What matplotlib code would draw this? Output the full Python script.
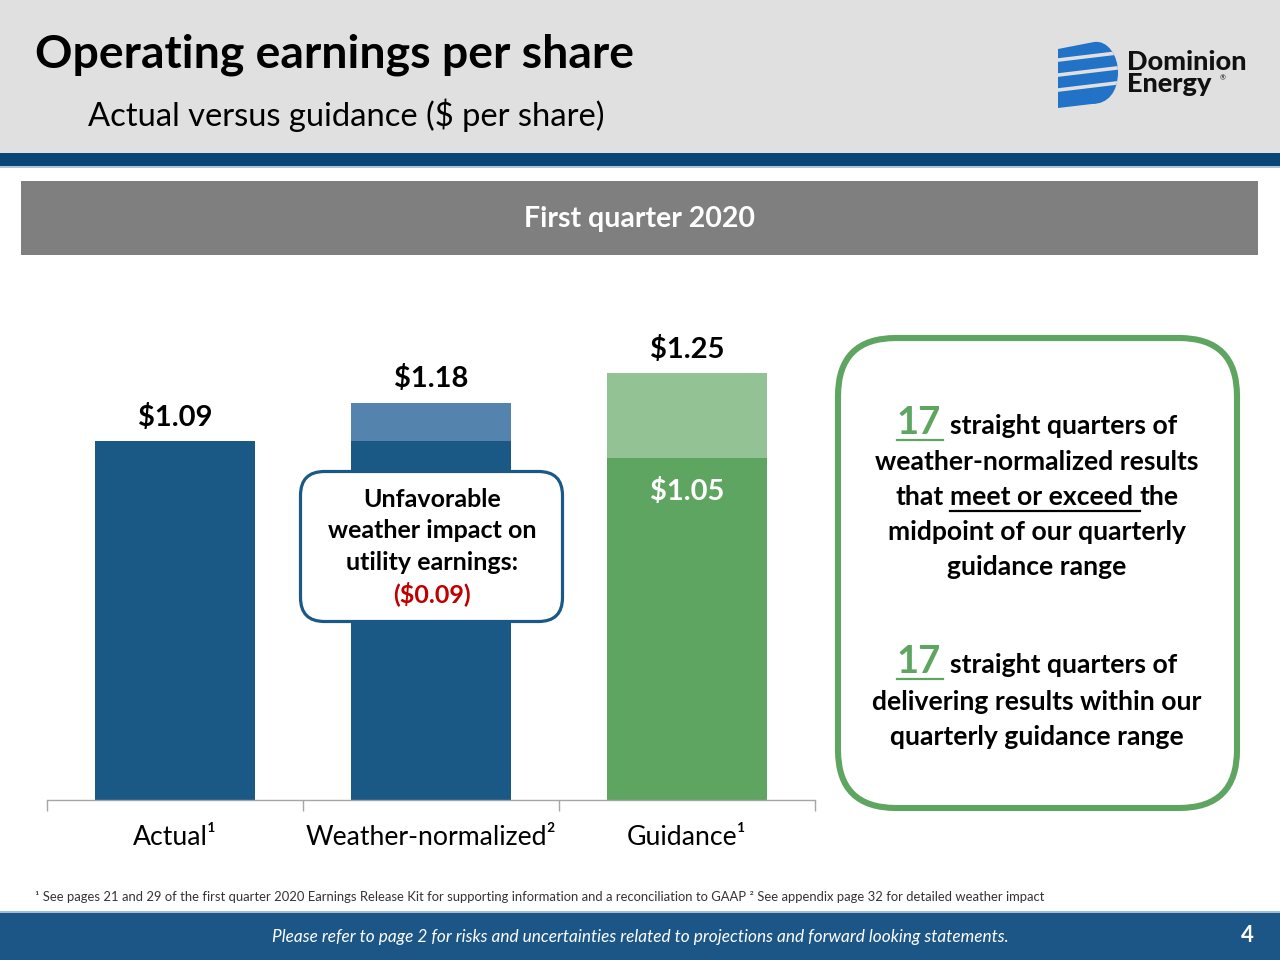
import matplotlib
matplotlib.use("Agg")
import matplotlib.pyplot as plt
from matplotlib.patches import Rectangle, FancyBboxPatch, PathPatch
from matplotlib.path import Path

plt.rcParams['font.family'] = ['Lato', 'DejaVu Sans']

# ---- data ----
categories = ["Actual¹", "Weather-normalized²", "Guidance¹"]
base_values = [1.09, 1.09, 1.05]      # dark part of each bar
top_values = [1.09, 1.18, 1.25]       # full bar height
top_labels = ["$1.09", "$1.18", "$1.25"]
inner_label = "$1.05"
weather_impact = "($0.09)"
streak_quarters = ["17", "17"]

DARK_BLUE = "#1A5886"
LIGHT_BLUE = "#5483AE"
DARK_GREEN = "#5FA562"
LIGHT_GREEN = "#93C394"
NAVY = "#0A4578"
base_colors = [DARK_BLUE, DARK_BLUE, DARK_GREEN]
top_colors = [DARK_BLUE, LIGHT_BLUE, LIGHT_GREEN]

W, H = 1280, 960
fig = plt.figure(figsize=(12.8, 9.6), dpi=100)
renderer = fig.canvas.get_renderer()

# background layer in pixel coords (y down)
bg = fig.add_axes([0, 0, 1, 1], zorder=0)
bg.set_xlim(0, W); bg.set_ylim(H, 0); bg.axis('off')

bg.add_patch(Rectangle((0, 0), W, 153, color='#E0E0E0', lw=0))
bg.add_patch(Rectangle((0, 153), W, 13, color=NAVY, lw=0))
bg.add_patch(Rectangle((0, 166), W, 1.5, color='#AFC4DA', lw=0))
bg.add_patch(Rectangle((21, 181), 1237, 74, color='#7F7F7F', lw=0))
bg.add_patch(Rectangle((0, 911), W, 2, color='#A3BDD8', lw=0))
bg.add_patch(Rectangle((0, 913), W, 47, color='#1B5687', lw=0))

bg.text(35, 67, "Operating earnings per share", fontsize=33.4, fontweight='bold',
        color='black', va='baseline', ha='left')
bg.text(88, 126, "Actual versus guidance ($ per share)", fontsize=23.6,
        color='black', va='baseline', ha='left')
bg.text(640, 219, "First quarter 2020", fontsize=20.5, fontweight='bold',
        color='white', va='center', ha='center')

# logo
logo_verts = [(1058, 49), (1094, 42), (1108, 40), (1118, 56), (1118, 72),
              (1118, 92), (1108, 104), (1092, 104), (1058, 108), (1058, 49)]
logo_codes = [Path.MOVETO, Path.LINETO, Path.CURVE4, Path.CURVE4, Path.CURVE4,
              Path.CURVE4, Path.CURVE4, Path.CURVE4, Path.LINETO, Path.CLOSEPOLY]
logo = PathPatch(Path(logo_verts, logo_codes), fc='#2272C8', ec='none')
bg.add_patch(logo)
for y0 in (61, 76, 91):
    ln, = bg.plot([1050, 1125], [y0, y0 - 9], color='#E0E0E0', lw=2.6)
    ln.set_clip_path(logo)
bg.text(1127, 70, "Dominion", fontsize=19.5, fontweight='black', color='#111111',
        va='baseline', ha='left')
bg.text(1127, 92, "Energy", fontsize=19.5, fontweight='black', color='#111111',
        va='baseline', ha='left')
bg.text(1220, 80, "®", fontsize=5, color='#111111', va='baseline', ha='left')

# footnote and footer
bg.text(35, 901, "¹ See pages 21 and 29 of the first quarter 2020 Earnings Release Kit for "
        "supporting information and a reconciliation to GAAP ² See appendix page 32 for "
        "detailed weather impact", fontsize=9.4, color='#333333', va='baseline', ha='left')
bg.text(640, 937, "Please refer to page 2 for risks and uncertainties related to projections "
        "and forward looking statements.", fontsize=12.4, style='italic', color='white',
        va='center', ha='center')
bg.text(1247, 935, "4", fontsize=16, fontweight='bold', color='white',
        va='center', ha='center')

# ---- bar chart ----
ymin = 0.245
ymax = ymin + 500 / 425
ax = fig.add_axes([47 / W, 1 - 800 / H, 768 / W, 500 / H], zorder=1)
ax.patch.set_alpha(0)
x = list(range(len(categories)))
ax.bar(x, base_values, width=0.625, color=base_colors, lw=0)
ax.bar(x, [t - b for t, b in zip(top_values, base_values)], bottom=base_values,
       width=0.625, color=top_colors, lw=0)
ax.set_xlim(-0.5, 2.5)
ax.set_ylim(ymin, ymax)
for s in ('top', 'right', 'left'):
    ax.spines[s].set_visible(False)
ax.spines['bottom'].set_color('#A6A6A6')
ax.spines['bottom'].set_linewidth(1.0)
ax.set_yticks([])
ax.set_xticks(x)
ax.set_xticklabels(categories, fontsize=19.2)
ax.tick_params(axis='x', which='major', length=0, pad=18)
ax.set_xticks([-0.5, 0.5, 1.5, 2.5], minor=True)
ax.tick_params(axis='x', which='minor', length=8, color='#A6A6A6', width=1.0)

for xi, val, lab in zip(x, top_values, top_labels):
    ax.annotate(lab, (xi, val), xytext=(0, 11), textcoords='offset points',
                ha='center', va='baseline', fontsize=21, fontweight='bold')
ax.annotate(inner_label, (2, base_values[2]), xytext=(0, -30), textcoords='offset points',
            ha='center', va='baseline', fontsize=21, fontweight='bold', color='white')

# ---- foreground: callout and green box ----
fg = fig.add_axes([0, 0, 1, 1], zorder=2)
fg.set_xlim(0, W); fg.set_ylim(H, 0); fg.axis('off')
fg.patch.set_alpha(0)

fg.add_patch(FancyBboxPatch((300.5, 471.5), 262, 150,
                            boxstyle="round,pad=0,rounding_size=24",
                            fc='white', ec=DARK_BLUE, lw=2.3))
for yb, s in zip((507, 538, 570), ("Unfavorable", "weather impact on", "utility earnings:")):
    fg.text(432, yb, s, fontsize=18, fontweight='bold', ha='center', va='baseline')
fg.text(432, 602, weather_impact, fontsize=18, fontweight='bold', color='#C00000',
        ha='center', va='baseline')

fg.add_patch(FancyBboxPatch((838, 338), 399, 470,
                            boxstyle="round,pad=0,rounding_size=58",
                            fc='white', ec=DARK_GREEN, lw=4.4))

BODY = dict(fontsize=19.1, fontweight='bold', color='black')
BIG = dict(fontsize=27.5, fontweight='bold', color=DARK_GREEN)


def width_of(s, kw):
    t = fg.text(0, 0, s, **kw)
    w = t.get_window_extent(renderer).width
    t.remove()
    return w


def text_runs(runs, xc, yb):
    # runs: (text, props, underline: None / 'text' / 'gap', gap after in spaces)
    widths = [width_of(s, kw) for s, kw, _, _ in runs]
    gaps = [g * width_of("x x", kw) - g * width_of("xx", kw) for _, kw, _, g in runs]
    xpos = xc - (sum(widths) + sum(gaps)) / 2
    for (s, kw, ul, g), w, gp in zip(runs, widths, gaps):
        fg.text(xpos, yb, s, ha='left', va='baseline', **kw)
        if ul:
            end = xpos + w + (gp if ul == 'gap' else 2)
            fg.plot([xpos, end], [yb + 6, yb + 6], color=kw['color'], lw=1.6)
        xpos += w + gp


xc = 1037
text_runs([(streak_quarters[0], BIG, 'text', 1), ("straight quarters of", BODY, None, 0)], xc, 434)
fg.text(xc, 470, "weather-normalized results", ha='center', va='baseline', **BODY)
text_runs([("that", BODY, None, 1), ("meet or exceed", BODY, 'gap', 1),
           ("the", BODY, None, 0)], xc, 505)
fg.text(xc, 540, "midpoint of our quarterly", ha='center', va='baseline', **BODY)
fg.text(xc, 575, "guidance range", ha='center', va='baseline', **BODY)

text_runs([(streak_quarters[1], BIG, 'text', 1), ("straight quarters of", BODY, None, 0)], xc, 673)
fg.text(xc, 710, "delivering results within our", ha='center', va='baseline', **BODY)
fg.text(xc, 745, "quarterly guidance range", ha='center', va='baseline', **BODY)

fig.savefig("out.png", dpi=100)
